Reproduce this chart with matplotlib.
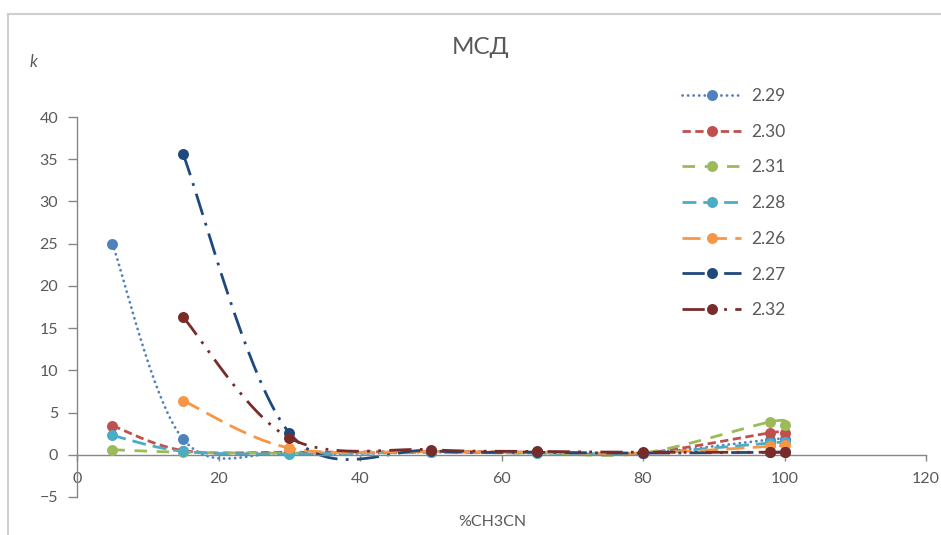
import numpy as np
import matplotlib
matplotlib.use("Agg")
import matplotlib.pyplot as plt
from matplotlib.lines import Line2D

plt.rcParams['font.family'] = ['Lato', 'Open Sans', 'DejaVu Sans']

# %CH3CN content of the mobile phase
pct_acn = [5, 15, 30, 50, 65, 80, 98, 100]

nan = np.nan
k_229 = [25.0, 1.85, 0.2, 0.3, 0.3, 0.2, 1.8, 1.9]
k_230 = [3.45, 0.5, 0.3, 0.4, 0.3, 0.2, 2.6, 2.6]
k_231 = [0.6, 0.3, 0.2, 0.3, 0.2, 0.2, 3.9, 3.55]
k_228 = [2.3, 0.4, 0.1, 0.3, 0.2, 0.2, 1.4, 1.5]
k_226 = [nan, 6.4, 0.8, 0.4, 0.3, 0.2, 1.0, 1.2]
k_227 = [nan, 35.6, 2.6, 0.5, 0.3, 0.2, 0.3, 0.3]
k_232 = [nan, 16.3, 2.0, 0.6, 0.4, 0.3, 0.3, 0.35]

series_names = ['2.29', '2.30', '2.31', '2.28', '2.26', '2.27', '2.32']
series_values = [k_229, k_230, k_231, k_228, k_226, k_227, k_232]
series_colors = ['#4F81BD', '#C0504D', '#9BBB59', '#4BACC6', '#F79646', '#1F497D', '#772C2A']
# dash patterns in multiples of the line width
series_dashes = [(0.05, 1.95), (3, 1.6), (4.5, 3.5), (5, 2.5), (6.5, 3), (8, 3, 1, 3), (8, 3, 1, 3, 1, 3)]
series_caps = ['round', 'butt', 'butt', 'butt', 'butt', 'butt', 'butt']

TEXT = '#595959'
AXIS = '#868686'
LW = 2.0
MS = 7.9


def smooth_curve(x, y, n=40):
    """Piecewise cubic Bezier through the points (Catmull-Rom tangents)."""
    pts = np.column_stack([x, y]).astype(float)
    out = []
    for i in range(len(pts) - 1):
        p0 = pts[i - 1] if i > 0 else pts[i]
        p1, p2 = pts[i], pts[i + 1]
        p3 = pts[i + 2] if i + 2 < len(pts) else pts[i + 1]
        c1 = p1 + (p2 - p0) / 6.0
        c2 = p2 - (p3 - p1) / 6.0
        t = np.linspace(0, 1, n)[:, None]
        seg = ((1 - t) ** 3) * p1 + 3 * ((1 - t) ** 2) * t * c1 + 3 * (1 - t) * t ** 2 * c2 + t ** 3 * p2
        out.append(seg if i == 0 else seg[1:])
    s = np.vstack(out)
    return s[:, 0], s[:, 1]


fig = plt.figure(figsize=(9.41, 5.35), dpi=100)
W, H = 941, 535
ax = fig.add_axes([77 / W, 1 - 497 / H, (926 - 77) / W, (497 - 117) / H])

handles = []
for name, vals, col, dsh, cap in zip(series_names, series_values, series_colors, series_dashes, series_caps):
    xv = np.array(pct_acn, float)
    yv = np.array(vals, float)
    ok = ~np.isnan(yv)
    xs, ys = smooth_curve(xv[ok], yv[ok])
    ax.plot(xs, ys, color=col, lw=LW, dashes=dsh, dash_capstyle=cap, solid_capstyle=cap, zorder=2)
    ax.plot(xv[ok], yv[ok], 'o', color=col, ms=MS, markeredgewidth=0, zorder=3)
    handles.append(Line2D([], [], color=col, lw=LW, dashes=dsh, dash_capstyle=cap,
                          marker='o', ms=MS, markeredgewidth=0, label=name))

ax.set_xlim(0, 120)
ax.set_ylim(-5, 40)
ax.set_xticks(range(0, 121, 20))
ax.set_yticks(range(-5, 41, 5))

for s in ('top', 'right'):
    ax.spines[s].set_visible(False)
ax.spines['bottom'].set_position(('data', 0))
for s in ('left', 'bottom'):
    ax.spines[s].set_color(AXIS)
    ax.spines[s].set_linewidth(1.0)

ax.tick_params(axis='y', direction='out', length=6.5, width=1.0, color=AXIS,
               labelsize=11.5, labelcolor=TEXT, pad=7)
ax.tick_params(axis='x', direction='out', length=4.5, width=1.0, color=AXIS,
               labelsize=11.5, labelcolor=TEXT, pad=8)
ax.patch.set_alpha(0)

ax.set_xlabel('%CH3CN', fontsize=11.5, color=TEXT)
ax.xaxis.set_label_coords((492 - 77) / 849, (497 - 522) / 380)
ax.xaxis.label.set_va('center')

fig.text(481 / W, 1 - 47.5 / H, 'МСД', ha='center', va='center', fontsize=17.5, color=TEXT)
fig.text(33 / W, 1 - 62 / H, 'k', ha='center', va='center', fontsize=12, color=TEXT, style='italic')

leg = ax.legend(handles=handles, loc='upper left', bbox_to_anchor=(682 / W, 1 - 88 / H),
                bbox_transform=fig.transFigure, frameon=False, fontsize=12.5,
                handlelength=3.4, handletextpad=0.6, labelspacing=1.135, borderpad=0,
                borderaxespad=0, labelcolor=TEXT)

# chart frame
fig.add_artist(Line2D([8 / W, 1], [1 - 13.5 / H, 1 - 13.5 / H], transform=fig.transFigure,
                      color='#CFCFCF', lw=1.5))
fig.add_artist(Line2D([8 / W, 8 / W], [0, 1 - 13.5 / H], transform=fig.transFigure,
                      color='#CFCFCF', lw=1.5))

fig.savefig('out.png', dpi=100)
